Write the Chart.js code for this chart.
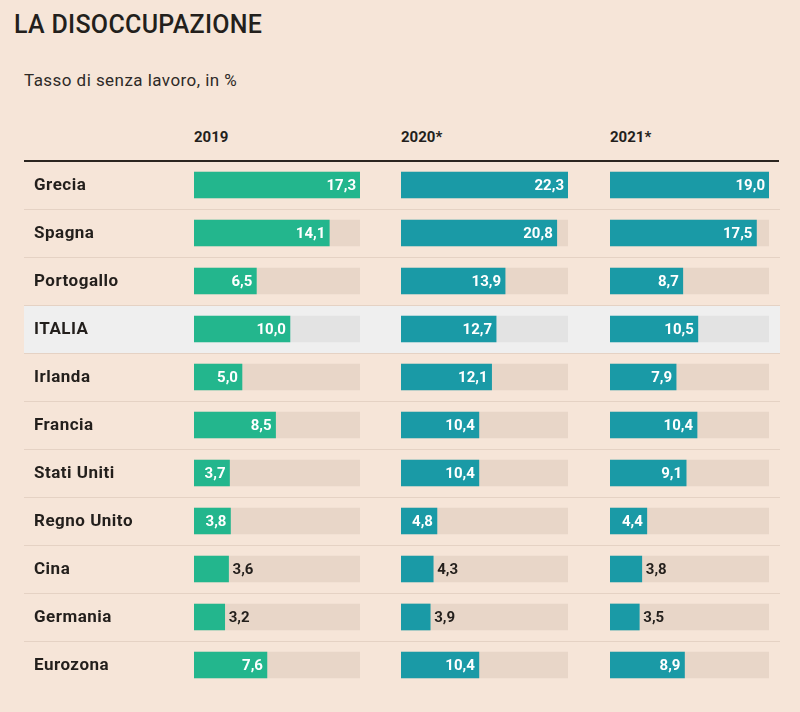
<!DOCTYPE html>
<html>
<head>
<meta charset="utf-8">
<script src="https://cdn.jsdelivr.net/npm/chart.js@4.4.1/dist/chart.umd.min.js"></script>
<style>
  html, body { margin:0; padding:0; }
  body { width:800px; height:712px; background:#f6e5d8; position:relative; overflow:hidden; font-family: Roboto, "Noto Sans", sans-serif; color:#231f1c; }
  #title { position:absolute; left:14px; top:12px; font-size:25px; line-height:1; font-weight:500; letter-spacing:0.3px; }
  #subtitle { position:absolute; left:24px; top:72px; font-size:17px; line-height:1; letter-spacing:0.45px; color:#2e2a27; }
  .hdr { position:absolute; top:128px; font-size:15px; font-weight:700; }
  #rule { position:absolute; left:24px; top:160px; width:755px; height:2px; background:#2b2520; }
  .cv { position:absolute; left:24px; top:161px; width:756px; height:528px; }
</style>
</head>
<body>
<div id="title">LA DISOCCUPAZIONE</div>
<div id="subtitle">Tasso di senza lavoro, in %</div>
<div class="hdr" style="left:194px">2019</div>
<div class="hdr" style="left:401px">2020*</div>
<div class="hdr" style="left:610px">2021*</div>
<div class="cv"><canvas id="c1"></canvas></div>
<div class="cv"><canvas id="c2"></canvas></div>
<div class="cv"><canvas id="c3"></canvas></div>
<div id="rule"></div>
<script>
const countries = ["Grecia","Spagna","Portogallo","ITALIA","Irlanda","Francia","Stati Uniti","Regno Unito","Cina","Germania","Eurozona"];
const years = ["2019","2020*","2021*"];
const values2019 = [17.3,14.1,6.5,10.0,5.0,8.5,3.7,3.8,3.6,3.2,7.6];
const values2020 = [22.3,20.8,13.9,12.7,12.1,10.4,10.4,4.8,4.3,3.9,10.4];
const values2021 = [19.0,17.5,8.7,10.5,7.9,10.4,9.1,4.4,3.8,3.5,8.9];
const highlight = "ITALIA";

const GREEN = "#23b68d", TEAL = "#1a9aa6", TRACK = "#e8d6c8", TRACK_HL = "#e3e3e3", HL_BG = "#efefef", SEP = "#e5d2c4", DARK = "#231f1c";

const bgPlugin = {
  id: 'rowsBg',
  beforeDraw(chart) {
    const ctx = chart.ctx, y = chart.scales.y, w = chart.width;
    const n = countries.length;
    const band = chart.chartArea.height / n;
    ctx.save();
    countries.forEach((c, i) => {
      const cy = y.getPixelForValue(i);
      const top = cy - band/2;
      if (c === highlight) { ctx.fillStyle = HL_BG; ctx.fillRect(0, top, w, band); }
      if (i > 0) { ctx.fillStyle = SEP; ctx.fillRect(0, Math.round(top), w, 1); }
      ctx.fillStyle = DARK;
      ctx.font = "bold 17px Roboto";
      try { ctx.letterSpacing = "0.5px"; } catch(e) {}
      ctx.textBaseline = "middle";
      ctx.textAlign = "left";
      ctx.fillText(c, 10, cy + 1);
    });
    ctx.restore();
  }
};

const labelPlugin = {
  id: 'valLabels',
  afterDatasetsDraw(chart) {
    const ctx = chart.ctx;
    const meta = chart.getDatasetMeta(1);
    const data = chart.data.datasets[1].data;
    ctx.save();
    ctx.font = "bold 15px Roboto";
    ctx.textBaseline = "middle";
    meta.data.forEach((bar, i) => {
      const txt = data[i].toFixed(1).replace('.', ',');
      const wpx = bar.x - bar.base;
      if (wpx > 35) { ctx.fillStyle = "#ffffff"; ctx.textAlign = "right"; ctx.fillText(txt, bar.x - 4, bar.y + 1); }
      else { ctx.fillStyle = DARK; ctx.textAlign = "left"; ctx.fillText(txt, bar.x + 4, bar.y + 1); }
    });
    ctx.restore();
  }
};

function makeChart(id, values, color, padL, padR, withBg) {
  const max = Math.max(...values);
  const track = values.map(() => max);
  return new Chart(document.getElementById(id), {
    type: 'bar',
    data: {
      labels: countries,
      datasets: [
        { data: track, backgroundColor: countries.map(c => c === highlight ? TRACK_HL : TRACK), barThickness: 26, grouped: false, order: 2 },
        { data: values, backgroundColor: color, barThickness: 26, grouped: false, order: 1 }
      ]
    },
    options: {
      indexAxis: 'y',
      responsive: true, maintainAspectRatio: false, animation: false,
      layout: { padding: { left: padL, right: padR, top: 0, bottom: 0 } },
      plugins: { legend: { display: false }, tooltip: { enabled: false } },
      scales: {
        x: { display: false, min: 0, max: max },
        y: { display: false, offset: true }
      }
    },
    plugins: withBg ? [bgPlugin, labelPlugin] : [labelPlugin]
  });
}

makeChart('c1', values2019, GREEN, 170, 420, true);
makeChart('c2', values2020, TEAL, 377, 212, false);
makeChart('c3', values2021, TEAL, 586, 11, false);
</script>
</body>
</html>
